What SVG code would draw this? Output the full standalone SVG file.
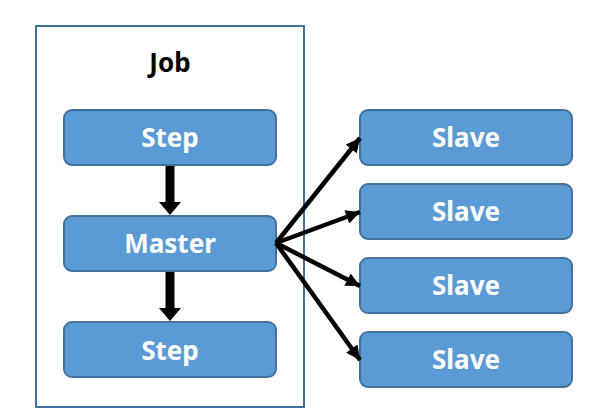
<svg xmlns="http://www.w3.org/2000/svg" width="593" height="419" viewBox="0 0 593 419">
<style>
.box{fill:#5B9BD5;stroke:#41719C;stroke-width:2}
.lbl{font-family:"Noto Sans","Open Sans",sans-serif;font-weight:bold;font-size:26px;fill:#fff;text-anchor:middle}
.thick{stroke:#000;stroke-width:9;fill:none}
.thin{stroke:#000;stroke-width:4.5;fill:none}
</style>
<defs>
<marker id="sm" markerUnits="userSpaceOnUse" markerWidth="16" markerHeight="14" refX="14" refY="7" orient="auto" viewBox="0 0 14 14">
<path d="M0,0 L14,7 L0,14 Z" fill="#000"/>
</marker>
</defs>
<rect width="593" height="419" fill="#fff"/>
<g id="job">
<rect x="36" y="26" width="268" height="381" fill="#fff" stroke="#41719C" stroke-width="2"/>
<text x="170" y="72" font-family="Noto Sans,Open Sans,sans-serif" font-weight="bold" font-size="26" text-anchor="middle" fill="#000">Job</text>
</g>
<g id="step1"><rect class="box" x="64" y="110" width="212" height="55" rx="8"/><text class="lbl" x="170" y="147">Step</text></g>
<g id="master"><rect class="box" x="64" y="216" width="212" height="55" rx="8"/><text class="lbl" x="170" y="253">Master</text></g>
<g id="step2"><rect class="box" x="64" y="322" width="212" height="55" rx="8"/><text class="lbl" x="170" y="360">Step</text></g>
<g id="slave1"><rect class="box" x="360" y="110" width="212" height="55" rx="8"/><text class="lbl" x="466" y="147">Slave</text></g>
<g id="slave2"><rect class="box" x="360" y="184" width="212" height="55" rx="8"/><text class="lbl" x="466" y="221">Slave</text></g>
<g id="slave3"><rect class="box" x="360" y="258" width="212" height="55" rx="8"/><text class="lbl" x="466" y="295">Slave</text></g>
<g id="slave4"><rect class="box" x="360" y="332" width="212" height="55" rx="8"/><text class="lbl" x="466" y="369">Slave</text></g>
<g id="connectors">
<path class="thick" d="M170,166 L170,203"/>
<path d="M159,202 L181,202 L170,215 Z" fill="#000"/>
<path class="thick" d="M170,272 L170,309"/>
<path d="M159,308 L181,308 L170,321 Z" fill="#000"/>
<path class="thin" d="M276,243 L360,138" marker-end="url(#sm)"/>
<path class="thin" d="M276,243 L360,212" marker-end="url(#sm)"/>
<path class="thin" d="M276,243 L360,286" marker-end="url(#sm)"/>
<path class="thin" d="M276,243 L360,360" marker-end="url(#sm)"/>
</g>
</svg>
